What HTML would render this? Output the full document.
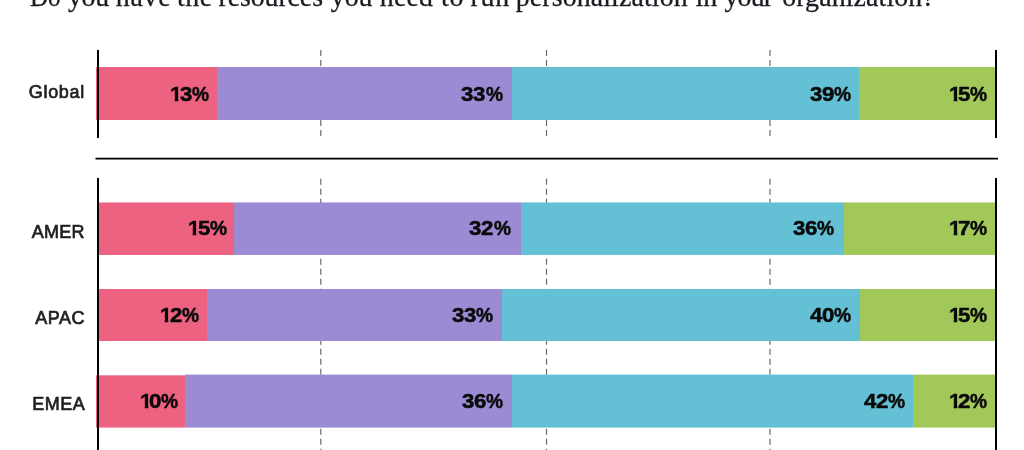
<!DOCTYPE html>
<html lang="en">
<head>
<meta charset="utf-8">
<title>Personalization resources chart</title>
<style>
html,body{margin:0;padding:0;background:#fff;}
body{width:1024px;height:450px;position:relative;overflow:hidden;font-family:"Liberation Sans",sans-serif;}
.title{position:absolute;left:0;top:-19px;white-space:nowrap;font-family:"Liberation Serif",serif;font-size:27.8px;line-height:32px;word-spacing:-6.95px;color:#1f1a22;-webkit-text-stroke:0.3px #1f1a22;}
.title span{display:inline-block;vertical-align:baseline;}
.lab{position:absolute;left:0;width:85px;text-align:right;font-weight:normal;font-size:17.7px;line-height:20px;color:#231f20;white-space:nowrap;-webkit-text-stroke:0.7px #231f20;transform-origin:100% 50%;transform:scaleX(1.017);}
.num{position:absolute;display:block;text-align:right;font-weight:bold;font-size:20px;line-height:20px;height:20px;color:#0a0a0a;white-space:nowrap;-webkit-text-stroke:0.5px #0a0a0a;}
.num span{display:inline-block;transform-origin:0 50%;}
.num .d{transform:scaleX(1.11);margin-right:1.3px;}
.num .o{transform:scaleX(1.085);margin-right:-1.6px;clip-path:polygon(0 0,7.8px 0,7.8px 20px,4.35px 20px,4.35px 13.7px,0 13.7px);}
.num .p{transform:scaleX(0.96);margin-left:-0.3px;}
svg{position:absolute;left:0;top:0;}
.title,.lab,.num{filter:blur(0.35px);}
</style>
</head>
<body>
<div class="title"><span style="margin-left:30px;width:38.00px;transform-origin:0 50%;transform:scaleX(0.9)">Do</span> <span style="width:47.80px;letter-spacing:-0.3px">you</span> <span style="width:61.20px;letter-spacing:0.733px">have</span> <span style="width:41.50px;letter-spacing:0.6px">the</span> <span style="width:112.30px;letter-spacing:-0.062px">resources</span> <span style="width:49.00px;letter-spacing:0.0px">you</span> <span style="width:61.20px;letter-spacing:0.233px">need</span> <span style="width:29.50px;letter-spacing:0.8px">to</span> <span style="width:45.30px;letter-spacing:0.85px">run</span> <span style="width:179.70px;letter-spacing:0.143px">personalization</span> <span style="width:29.00px;letter-spacing:0.0px">in</span> <span style="width:57.70px;letter-spacing:-0.766px">your</span> <span style="letter-spacing:0.15px">organization?</span></div>
<svg width="1024" height="450" viewBox="0 0 1024 450">
<g stroke="#6a6a6a" stroke-width="1.2" stroke-dasharray="6 4" fill="none">
<path d="M320.8 50V138M546.5 50V138M770 50V138"/>
<path d="M320.8 178.8V450M546.5 178.8V450M770 178.8V450"/>
</g>
</svg>

<svg width="1024" height="450" viewBox="0 0 1024 450">
<rect x="96" y="67" width="121" height="53.00" fill="#ec6280"/>
<rect x="217" y="67" width="295" height="53.00" fill="#9b8bd5"/>
<rect x="512" y="67" width="347" height="53.00" fill="#63c0d5"/>
<rect x="859" y="67" width="136" height="53.00" fill="#a3c85a"/>
<rect x="97" y="202.45" width="137" height="52.50" fill="#ec6280"/>
<rect x="234" y="202.45" width="287" height="52.50" fill="#9b8bd5"/>
<rect x="521" y="202.45" width="323" height="52.50" fill="#63c0d5"/>
<rect x="844" y="202.45" width="151" height="52.50" fill="#a3c85a"/>
<rect x="97" y="289" width="110" height="52.00" fill="#ec6280"/>
<rect x="207" y="289" width="295" height="52.00" fill="#9b8bd5"/>
<rect x="502" y="289" width="358" height="52.00" fill="#63c0d5"/>
<rect x="860" y="289" width="135" height="52.00" fill="#a3c85a"/>
<rect x="96" y="375.3" width="89" height="52.30" fill="#ec6280"/>
<rect x="185" y="374.6" width="327" height="53.00" fill="#9b8bd5"/>
<rect x="512" y="374.6" width="401" height="53.00" fill="#63c0d5"/>
<rect x="913" y="374.6" width="82" height="53.00" fill="#a3c85a"/>
</svg>
<div class="lab" style="top:81.8px;width:84.86px;letter-spacing:0.66px">Global</div>
<div class="num" style="right:814.45px;top:83.5px"><span class="o">1</span><span class="d">3</span><span class="p">%</span></div>
<div class="num" style="right:520.65px;top:83.5px"><span class="d">3</span><span class="d">3</span><span class="p">%</span></div>
<div class="num" style="right:172.05px;top:83.5px"><span class="d">3</span><span class="d">9</span><span class="p">%</span></div>
<div class="num" style="right:36.05px;top:83.5px"><span class="o">1</span><span class="d">5</span><span class="p">%</span></div>
<div class="lab" style="top:222.0px;width:84.65px;letter-spacing:0.25px">AMER</div>
<div class="num" style="right:796.45px;top:218.2px"><span class="o">1</span><span class="d">5</span><span class="p">%</span></div>
<div class="num" style="right:512.65px;top:218.2px"><span class="d">3</span><span class="d">2</span><span class="p">%</span></div>
<div class="num" style="right:188.85px;top:218.2px"><span class="d">3</span><span class="d">6</span><span class="p">%</span></div>
<div class="num" style="right:36.05px;top:218.2px"><span class="o">1</span><span class="d">7</span><span class="p">%</span></div>
<div class="lab" style="top:308.0px;width:84.90px;letter-spacing:0.5px">APAC</div>
<div class="num" style="right:824.45px;top:304.8px"><span class="o">1</span><span class="d">2</span><span class="p">%</span></div>
<div class="num" style="right:529.85px;top:304.8px"><span class="d">3</span><span class="d">3</span><span class="p">%</span></div>
<div class="num" style="right:171.85px;top:304.8px"><span class="d">4</span><span class="d">0</span><span class="p">%</span></div>
<div class="num" style="right:36.05px;top:304.8px"><span class="o">1</span><span class="d">5</span><span class="p">%</span></div>
<div class="lab" style="top:394.0px;width:85.35px;letter-spacing:0.55px">EMEA</div>
<div class="num" style="right:844.85px;top:391.0px"><span class="o">1</span><span class="d">0</span><span class="p">%</span></div>
<div class="num" style="right:520.05px;top:391.0px"><span class="d">3</span><span class="d">6</span><span class="p">%</span></div>
<div class="num" style="right:118.05px;top:391.0px"><span class="d">4</span><span class="d">2</span><span class="p">%</span></div>
<div class="num" style="right:36.05px;top:391.0px"><span class="o">1</span><span class="d">2</span><span class="p">%</span></div>
<svg width="1024" height="450" viewBox="0 0 1024 450">
<g stroke="#000" stroke-width="2" fill="none">
<path d="M98 50V138M996 50V138"/>
<path d="M98 178V450M996 178V450"/>
<path d="M95.5 158.7H998" stroke-width="1.8"/>
</g>
</svg>
</body>
</html>
